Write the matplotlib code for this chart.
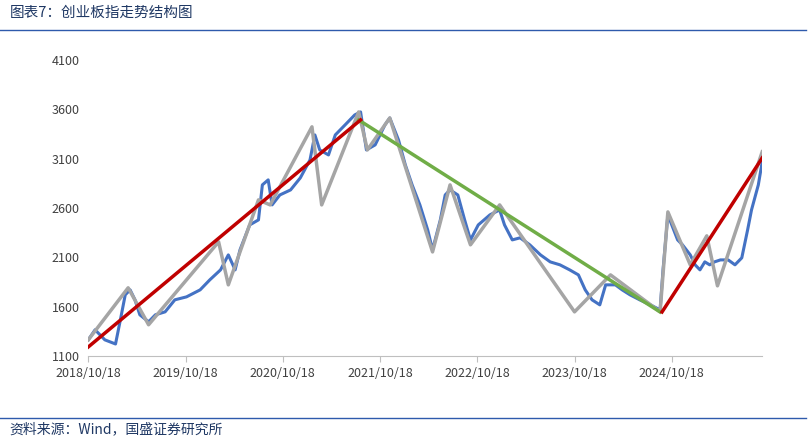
import matplotlib
matplotlib.use("Agg")
import matplotlib.pyplot as plt
from matplotlib.lines import Line2D

plt.rcParams['font.family'] = ['Noto Sans CJK SC', 'DejaVu Sans']

# time in fractional years, index values
blue_t = [2018.79,2018.86,2018.91,2018.96,2019.07,2019.12,2019.17,2019.22,2019.27,2019.32,2019.41,2019.48,2019.58,2019.68,2019.80,2019.94,2020.04,2020.15,2020.23,2020.30,2020.35,2020.45,2020.54,2020.58,2020.64,2020.68,2020.76,2020.87,2020.97,2021.07,2021.12,2021.17,2021.26,2021.33,2021.43,2021.53,2021.59,2021.65,2021.74,2021.84,2021.89,2021.98,2022.05,2022.12,2022.20,2022.28,2022.33,2022.41,2022.46,2022.51,2022.59,2022.66,2022.72,2022.80,2022.92,2023.02,2023.07,2023.15,2023.23,2023.33,2023.44,2023.54,2023.64,2023.74,2023.83,2023.90,2023.97,2024.05,2024.11,2024.21,2024.28,2024.36,2024.46,2024.57,2024.67,2024.70,2024.75,2024.79,2024.85,2024.90,2024.98,2025.03,2025.08,2025.13,2025.18,2025.23,2025.29,2025.37,2025.44,2025.51,2025.57,2025.61,2025.68,2025.72]
blue_v = [1262,1364,1313,1262,1220,1465,1719,1769,1668,1516,1445,1516,1546,1668,1698,1769,1871,1972,2124,1972,2175,2428,2479,2834,2885,2631,2732,2783,2905,3088,3341,3189,3138,3341,3442,3544,3574,3189,3240,3442,3513,3290,3037,2834,2631,2378,2175,2479,2732,2783,2732,2479,2276,2428,2530,2580,2428,2276,2297,2226,2124,2053,2023,1972,1921,1769,1668,1617,1820,1820,1769,1719,1668,1617,1566,1972,2530,2428,2276,2226,2124,2023,1972,2053,2023,2053,2073,2073,2023,2094,2378,2580,2834,3068]

grey_t = [2018.79,2019.20,2019.41,2020.13,2020.23,2020.54,2020.66,2021.09,2021.19,2021.57,2021.66,2021.89,2022.33,2022.51,2022.72,2023.02,2023.79,2024.16,2024.67,2024.75,2024.98,2025.15,2025.26,2025.72]
grey_v = [1262,1790,1415,2256,1820,2682,2631,3423,2631,3574,3189,3513,2154,2834,2226,2631,1546,1921,1546,2560,2023,2317,1810,3170]

red1_t = [2018.79, 2021.59]
red1_v = [1190, 3493]
red2_t = [2024.69, 2025.72]
red2_v = [1545, 3108]
green_t = [2021.57, 2024.67]
green_v = [3493, 1545]

xticks = [2018.79 + i for i in range(7)]
xlabels = ["2018/10/18","2019/10/18","2020/10/18","2021/10/18","2022/10/18","2023/10/18","2024/10/18"]
yticks = list(range(1100, 4101, 500))

fig = plt.figure(figsize=(8.1, 4.42), dpi=100)
ax = fig.add_axes([0.109, 0.195, 0.832, 0.669])
ax.plot(blue_t, blue_v, color='#4472C4', lw=2.2, zorder=2)
ax.plot(grey_t, grey_v, color='#A5A5A5', lw=2.5, zorder=3)
ax.plot(green_t, green_v, color='#70AD47', lw=2.5, zorder=4)
ax.plot(red1_t, red1_v, color='#C00000', lw=2.5, zorder=5)
ax.plot(red2_t, red2_v, color='#C00000', lw=2.5, zorder=5)

ax.set_xlim(2018.79, 2025.72)
ax.set_ylim(1100, 4100)
ax.set_xticks(xticks)
ax.set_xticklabels(xlabels, fontsize=9, color='#404040')
ax.set_yticks(yticks)
ax.set_yticklabels([str(v) for v in yticks], fontsize=9, color='#404040')
for s in ['top', 'right', 'left']:
    ax.spines[s].set_visible(False)
ax.spines['bottom'].set_color('#BFBFBF')
ax.tick_params(axis='y', length=0, pad=6)
ax.tick_params(axis='x', length=4, color='#BFBFBF', pad=4)

fig.text(0.012, 0.97, "图表7：创业板指走势结构图", fontsize=10.5, color='#1F3864', style='italic', va='center')
fig.add_artist(Line2D([0.0, 0.995], [0.932, 0.932], color='#2E5AAC', lw=1))
fig.add_artist(Line2D([0.0, 0.995], [0.055, 0.055], color='#2E5AAC', lw=1))
fig.text(0.012, 0.028, "资料来源：Wind，国盛证券研究所", fontsize=10, color='#1F3864', style='italic', va='center')

fig.savefig("out.png", dpi=100)
